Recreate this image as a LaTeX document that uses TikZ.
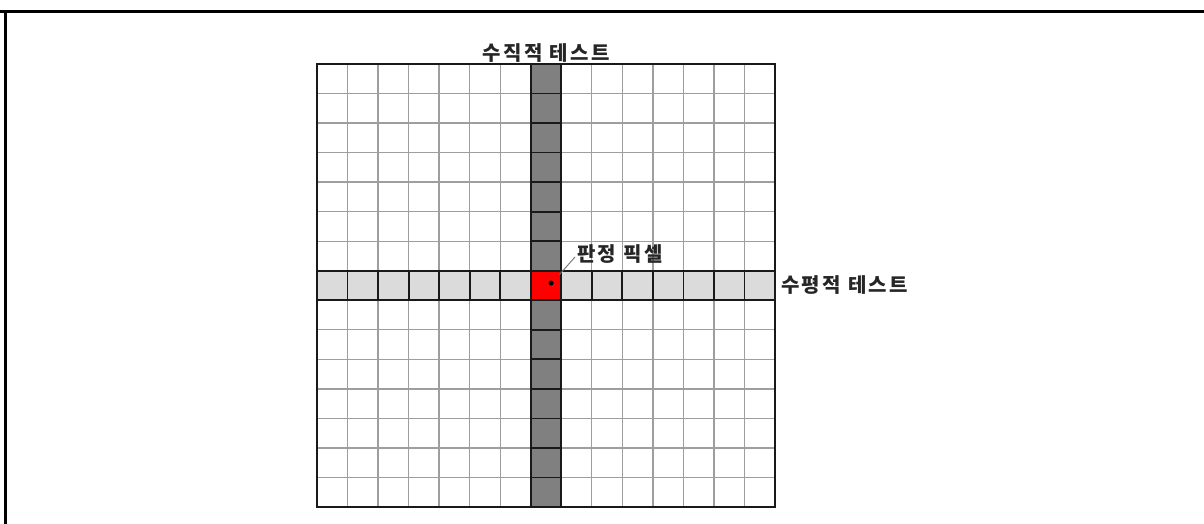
\documentclass[tikz,border=0pt]{standalone}
\usepackage{fontspec}
\newfontfamily\kr{Noto Sans CJK KR}[LetterSpace=12]
\begin{document}
\begin{tikzpicture}[x=1pt,y=-1pt,
  lbl/.style={font=\kr\bfseries\fontsize{20}{20}\selectfont, inner sep=0pt, text=black!85},
  gridline/.style={draw=black!38, line width=1.3pt},
  cellline/.style={draw=black!90, line width=1.8pt},
  frameline/.style={draw=black, line width=3pt},
  leader/.style={draw=black!55, line width=0.9pt}]
\useasboundingbox (0,0) rectangle (1204,524);
\fill[white] (0,0) rectangle (1204,524);
% page frame
\draw[frameline] (0,12) -- (1204,12);
\draw[frameline] (5,10.5) -- (5,524);
% fills
\fill[black!14] (317,270.73) rectangle (775,300.27);
\fill[black!50] (530.73,64) rectangle (561.27,507);
% light grid
\foreach \i in {1,...,14} {
  \draw[gridline] ({317+\i*30.533},64) -- ({317+\i*30.533},507);
  \draw[gridline] (317,{64+\i*29.533}) -- (775,{64+\i*29.533});
}
% dark cell borders: vertical test column
\foreach \i in {0,...,15}
  \draw[cellline] (530.73,{64+\i*29.533}) -- (561.27,{64+\i*29.533});
\draw[cellline] (530.73,64) -- (530.73,507);
\draw[cellline] (561.27,64) -- (561.27,507);
% dark cell borders: horizontal test row
\foreach \i in {0,...,15}
  \draw[cellline] ({317+\i*30.533},270.73) -- ({317+\i*30.533},300.27);
\draw[cellline] (317,270.73) -- (775,270.73);
\draw[cellline] (317,300.27) -- (775,300.27);
% outer grid border
\draw[draw=black!90, line width=2pt] (317,64) rectangle (775,507);
% judged pixel
\node[draw=black!90, fill=red, line width=1.8pt, minimum width=30.533pt, minimum height=29.533pt, inner sep=0pt] (judge) at (546,285.5) {};
\coordinate (dot) at (551,283);
\fill[black] (dot) circle (2.6);
% labels
\node[lbl] (vt) at (546,53) {수직적 테스트};
\node[lbl, anchor=west] (ht) at (781,285.5) {수평적 테스트};
\node[lbl, anchor=west] (pl) at (577,254) {판정 픽셀};
\coordinate (lstart) at (559.5,274.5);
\draw[leader] (lstart) -- ([xshift=-2pt,yshift=-3pt]pl.west);
\end{tikzpicture}
\end{document}
